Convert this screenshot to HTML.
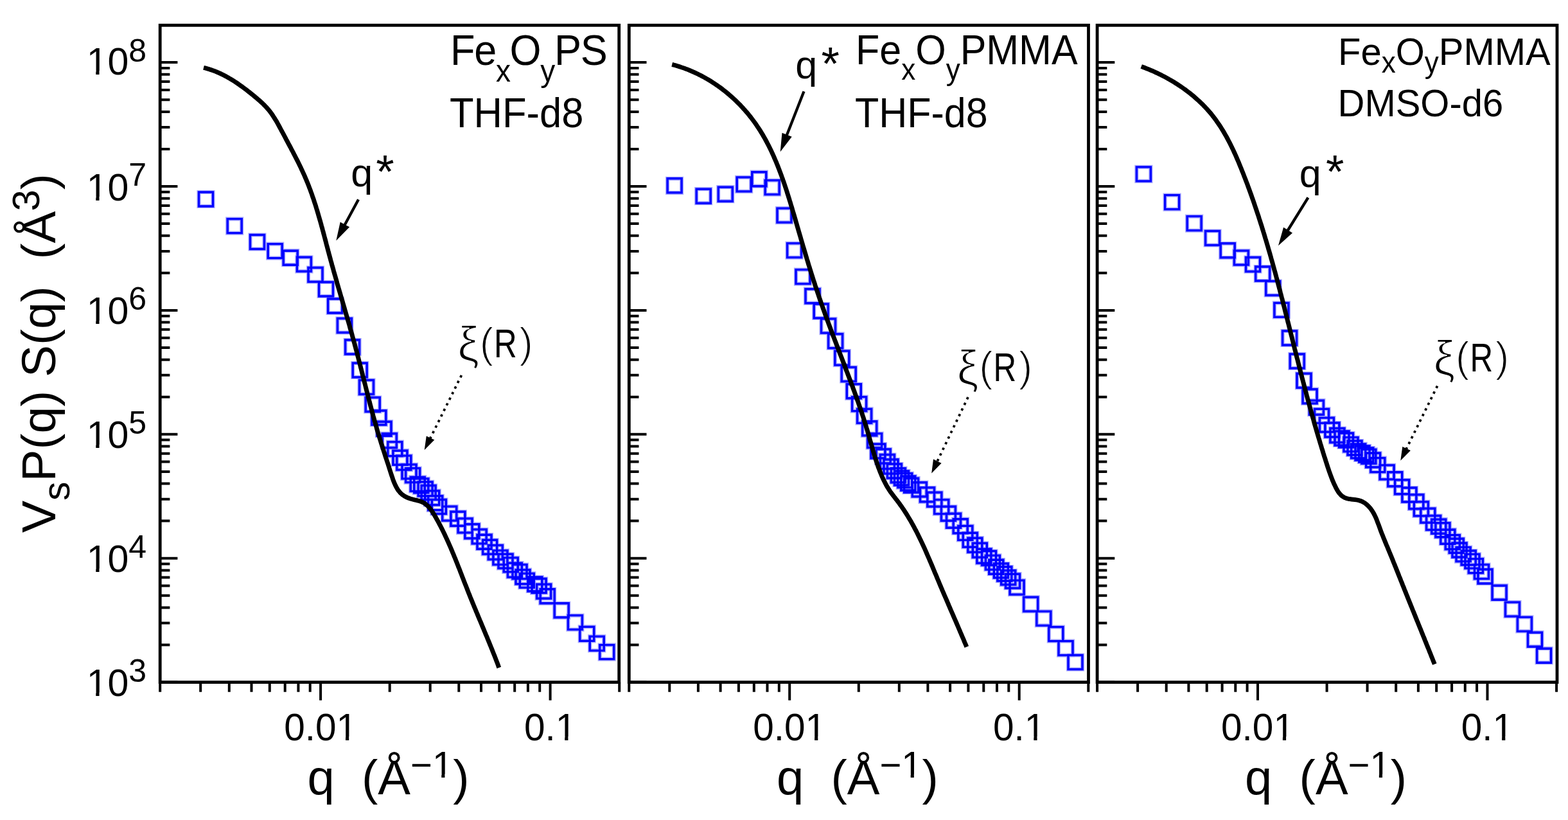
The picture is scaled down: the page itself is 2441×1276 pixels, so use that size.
<!DOCTYPE html>
<html><head><meta charset="utf-8"><title>SANS plot</title>
<style>html,body{margin:0;padding:0;background:#fff;}svg{display:block;}</style></head>
<body><svg width="2441" height="1276" viewBox="0 0 2441 1276">
<rect width="2441" height="1276" fill="#fff"/>
<rect x="249.2" y="39.3" width="714.5" height="1022.3" fill="none" stroke="#000" stroke-width="4.8"/>
<path d="M249.2 1061.6h27.2M249.2 1003.5h15.2M249.2 969.6h15.2M249.2 945.5h15.2M249.2 926.8h15.2M249.2 911.5h15.2M249.2 898.6h15.2M249.2 887.4h15.2M249.2 877.5h15.2M249.2 868.7h27.2M249.2 810.6h15.2M249.2 776.7h15.2M249.2 752.6h15.2M249.2 733.9h15.2M249.2 718.6h15.2M249.2 705.7h15.2M249.2 694.5h15.2M249.2 684.6h15.2M249.2 675.8h27.2M249.2 617.7h15.2M249.2 583.8h15.2M249.2 559.7h15.2M249.2 541.0h15.2M249.2 525.7h15.2M249.2 512.8h15.2M249.2 501.6h15.2M249.2 491.7h15.2M249.2 482.9h27.2M249.2 424.8h15.2M249.2 390.9h15.2M249.2 366.8h15.2M249.2 348.1h15.2M249.2 332.8h15.2M249.2 319.9h15.2M249.2 308.7h15.2M249.2 298.8h15.2M249.2 290.0h27.2M249.2 231.9h15.2M249.2 198.0h15.2M249.2 173.9h15.2M249.2 155.2h15.2M249.2 139.9h15.2M249.2 127.0h15.2M249.2 115.8h15.2M249.2 105.9h15.2M249.2 97.1h27.2" stroke="#000" stroke-width="4" fill="none"/>
<path d="M249.2 1061.6V1076.8M312.2 1061.6V1076.8M356.8 1061.6V1076.8M391.5 1061.6V1076.8M419.8 1061.6V1076.8M443.7 1061.6V1076.8M464.4 1061.6V1076.8M482.7 1061.6V1076.8M499.1 1061.6V1089.8M606.7 1061.6V1076.8M669.7 1061.6V1076.8M714.3 1061.6V1076.8M749.0 1061.6V1076.8M777.3 1061.6V1076.8M801.2 1061.6V1076.8M821.9 1061.6V1076.8M840.2 1061.6V1076.8M856.6 1061.6V1089.8M964.2 1061.6V1076.8" stroke="#000" stroke-width="4" fill="none"/>
<text x="499.1" y="1151.7" font-size="58.5" text-anchor="middle" font-family="'Liberation Sans', Arial, sans-serif">0.01</text>
<text x="856.6" y="1151.7" font-size="58.5" text-anchor="middle" font-family="'Liberation Sans', Arial, sans-serif">0.1</text>
<text x="604.5" y="1235.7" font-size="76" text-anchor="middle" font-family="'Liberation Sans', Arial, sans-serif" xml:space="preserve">q  (Å<tspan font-size="58" dy="-25.7">−1</tspan><tspan dy="25.7">)</tspan></text>
<rect x="979.3" y="39.3" width="715.2" height="1022.3" fill="none" stroke="#000" stroke-width="4.8"/>
<path d="M979.3 1061.6h27.2M979.3 1003.5h15.2M979.3 969.6h15.2M979.3 945.5h15.2M979.3 926.8h15.2M979.3 911.5h15.2M979.3 898.6h15.2M979.3 887.4h15.2M979.3 877.5h15.2M979.3 868.7h27.2M979.3 810.6h15.2M979.3 776.7h15.2M979.3 752.6h15.2M979.3 733.9h15.2M979.3 718.6h15.2M979.3 705.7h15.2M979.3 694.5h15.2M979.3 684.6h15.2M979.3 675.8h27.2M979.3 617.7h15.2M979.3 583.8h15.2M979.3 559.7h15.2M979.3 541.0h15.2M979.3 525.7h15.2M979.3 512.8h15.2M979.3 501.6h15.2M979.3 491.7h15.2M979.3 482.9h27.2M979.3 424.8h15.2M979.3 390.9h15.2M979.3 366.8h15.2M979.3 348.1h15.2M979.3 332.8h15.2M979.3 319.9h15.2M979.3 308.7h15.2M979.3 298.8h15.2M979.3 290.0h27.2M979.3 231.9h15.2M979.3 198.0h15.2M979.3 173.9h15.2M979.3 155.2h15.2M979.3 139.9h15.2M979.3 127.0h15.2M979.3 115.8h15.2M979.3 105.9h15.2M979.3 97.1h27.2" stroke="#000" stroke-width="4" fill="none"/>
<path d="M979.3 1061.6V1076.8M1042.3 1061.6V1076.8M1086.9 1061.6V1076.8M1121.6 1061.6V1076.8M1149.9 1061.6V1076.8M1173.8 1061.6V1076.8M1194.5 1061.6V1076.8M1212.8 1061.6V1076.8M1229.2 1061.6V1089.8M1336.8 1061.6V1076.8M1399.8 1061.6V1076.8M1444.4 1061.6V1076.8M1479.1 1061.6V1076.8M1507.4 1061.6V1076.8M1531.3 1061.6V1076.8M1552.0 1061.6V1076.8M1570.3 1061.6V1076.8M1586.7 1061.6V1089.8M1694.3 1061.6V1076.8" stroke="#000" stroke-width="4" fill="none"/>
<text x="1229.2" y="1151.7" font-size="58.5" text-anchor="middle" font-family="'Liberation Sans', Arial, sans-serif">0.01</text>
<text x="1586.7" y="1151.7" font-size="58.5" text-anchor="middle" font-family="'Liberation Sans', Arial, sans-serif">0.1</text>
<text x="1334.9" y="1235.7" font-size="76" text-anchor="middle" font-family="'Liberation Sans', Arial, sans-serif" xml:space="preserve">q  (Å<tspan font-size="58" dy="-25.7">−1</tspan><tspan dy="25.7">)</tspan></text>
<rect x="1708.1" y="39.3" width="715.9" height="1022.3" fill="none" stroke="#000" stroke-width="4.8"/>
<path d="M1708.1 1061.6h27.2M1708.1 1003.5h15.2M1708.1 969.6h15.2M1708.1 945.5h15.2M1708.1 926.8h15.2M1708.1 911.5h15.2M1708.1 898.6h15.2M1708.1 887.4h15.2M1708.1 877.5h15.2M1708.1 868.7h27.2M1708.1 810.6h15.2M1708.1 776.7h15.2M1708.1 752.6h15.2M1708.1 733.9h15.2M1708.1 718.6h15.2M1708.1 705.7h15.2M1708.1 694.5h15.2M1708.1 684.6h15.2M1708.1 675.8h27.2M1708.1 617.7h15.2M1708.1 583.8h15.2M1708.1 559.7h15.2M1708.1 541.0h15.2M1708.1 525.7h15.2M1708.1 512.8h15.2M1708.1 501.6h15.2M1708.1 491.7h15.2M1708.1 482.9h27.2M1708.1 424.8h15.2M1708.1 390.9h15.2M1708.1 366.8h15.2M1708.1 348.1h15.2M1708.1 332.8h15.2M1708.1 319.9h15.2M1708.1 308.7h15.2M1708.1 298.8h15.2M1708.1 290.0h27.2M1708.1 231.9h15.2M1708.1 198.0h15.2M1708.1 173.9h15.2M1708.1 155.2h15.2M1708.1 139.9h15.2M1708.1 127.0h15.2M1708.1 115.8h15.2M1708.1 105.9h15.2M1708.1 97.1h27.2" stroke="#000" stroke-width="4" fill="none"/>
<path d="M1708.1 1061.6V1076.8M1771.1 1061.6V1076.8M1815.7 1061.6V1076.8M1850.4 1061.6V1076.8M1878.7 1061.6V1076.8M1902.6 1061.6V1076.8M1923.3 1061.6V1076.8M1941.6 1061.6V1076.8M1958.0 1061.6V1089.8M2065.6 1061.6V1076.8M2128.6 1061.6V1076.8M2173.2 1061.6V1076.8M2207.9 1061.6V1076.8M2236.2 1061.6V1076.8M2260.1 1061.6V1076.8M2280.8 1061.6V1076.8M2299.1 1061.6V1076.8M2315.5 1061.6V1089.8M2423.1 1061.6V1076.8" stroke="#000" stroke-width="4" fill="none"/>
<text x="1958.0" y="1151.7" font-size="58.5" text-anchor="middle" font-family="'Liberation Sans', Arial, sans-serif">0.01</text>
<text x="2315.5" y="1151.7" font-size="58.5" text-anchor="middle" font-family="'Liberation Sans', Arial, sans-serif">0.1</text>
<text x="2064.1" y="1235.7" font-size="76" text-anchor="middle" font-family="'Liberation Sans', Arial, sans-serif" xml:space="preserve">q  (Å<tspan font-size="58" dy="-25.7">−1</tspan><tspan dy="25.7">)</tspan></text>
<text x="200.3" y="1083.1" font-size="59" text-anchor="end" font-family="'Liberation Sans', Arial, sans-serif">10</text>
<text x="200.2" y="1060.6" font-size="50" font-family="'Liberation Sans', Arial, sans-serif">3</text>
<text x="200.3" y="890.2" font-size="59" text-anchor="end" font-family="'Liberation Sans', Arial, sans-serif">10</text>
<text x="200.2" y="867.7" font-size="50" font-family="'Liberation Sans', Arial, sans-serif">4</text>
<text x="200.3" y="697.3" font-size="59" text-anchor="end" font-family="'Liberation Sans', Arial, sans-serif">10</text>
<text x="200.2" y="674.8" font-size="50" font-family="'Liberation Sans', Arial, sans-serif">5</text>
<text x="200.3" y="504.4" font-size="59" text-anchor="end" font-family="'Liberation Sans', Arial, sans-serif">10</text>
<text x="200.2" y="481.9" font-size="50" font-family="'Liberation Sans', Arial, sans-serif">6</text>
<text x="200.3" y="311.5" font-size="59" text-anchor="end" font-family="'Liberation Sans', Arial, sans-serif">10</text>
<text x="200.2" y="289.0" font-size="50" font-family="'Liberation Sans', Arial, sans-serif">7</text>
<text x="200.3" y="115.8" font-size="59" text-anchor="end" font-family="'Liberation Sans', Arial, sans-serif">10</text>
<text x="200.2" y="96.4" font-size="50" font-family="'Liberation Sans', Arial, sans-serif">8</text>
<rect x="526.41" y="1146.32" width="11.58" height="6.58" fill="#fff"/>
<rect x="543.20" y="1146.32" width="11.70" height="6.58" fill="#fff"/>
<rect x="867.64" y="1146.32" width="11.58" height="6.58" fill="#fff"/>
<rect x="884.43" y="1146.32" width="11.70" height="6.58" fill="#fff"/>
<rect x="1256.51" y="1146.32" width="11.58" height="6.58" fill="#fff"/>
<rect x="1273.30" y="1146.32" width="11.70" height="6.58" fill="#fff"/>
<rect x="1597.74" y="1146.32" width="11.58" height="6.58" fill="#fff"/>
<rect x="1614.53" y="1146.32" width="11.70" height="6.58" fill="#fff"/>
<rect x="1985.31" y="1146.32" width="11.58" height="6.58" fill="#fff"/>
<rect x="2002.10" y="1146.32" width="11.70" height="6.58" fill="#fff"/>
<rect x="2326.54" y="1146.32" width="11.58" height="6.58" fill="#fff"/>
<rect x="2343.33" y="1146.32" width="11.70" height="6.58" fill="#fff"/>
<rect x="675.78" y="1204.66" width="11.48" height="6.54" fill="#fff"/>
<rect x="692.43" y="1204.66" width="11.60" height="6.54" fill="#fff"/>
<rect x="1406.18" y="1204.66" width="11.48" height="6.54" fill="#fff"/>
<rect x="1422.83" y="1204.66" width="11.60" height="6.54" fill="#fff"/>
<rect x="2135.38" y="1204.66" width="11.48" height="6.54" fill="#fff"/>
<rect x="2152.03" y="1204.66" width="11.60" height="6.54" fill="#fff"/>
<rect x="137.61" y="1077.67" width="11.68" height="6.63" fill="#fff"/>
<rect x="154.54" y="1077.67" width="11.80" height="6.63" fill="#fff"/>
<rect x="137.61" y="884.77" width="11.68" height="6.63" fill="#fff"/>
<rect x="154.54" y="884.77" width="11.80" height="6.63" fill="#fff"/>
<rect x="137.61" y="691.87" width="11.68" height="6.63" fill="#fff"/>
<rect x="154.54" y="691.87" width="11.80" height="6.63" fill="#fff"/>
<rect x="137.61" y="498.97" width="11.68" height="6.63" fill="#fff"/>
<rect x="154.54" y="498.97" width="11.80" height="6.63" fill="#fff"/>
<rect x="137.61" y="306.07" width="11.68" height="6.63" fill="#fff"/>
<rect x="154.54" y="306.07" width="11.80" height="6.63" fill="#fff"/>
<rect x="137.61" y="110.37" width="11.68" height="6.63" fill="#fff"/>
<rect x="154.54" y="110.37" width="11.80" height="6.63" fill="#fff"/>
<text transform="translate(86,829) rotate(-90)" font-size="75" font-family="'Liberation Sans', Arial, sans-serif" xml:space="preserve">V<tspan font-size="59" dy="22">s</tspan><tspan dy="-22">P(q) S(q)  (Å</tspan><tspan font-size="60" dy="-25">3</tspan><tspan dy="25">)</tspan></text>
<g transform="translate(701,101.3) scale(1,1.06)"><text x="0" y="0" font-size="63" letter-spacing="-1.3" font-family="'Liberation Sans', Arial, sans-serif"><tspan>Fe</tspan><tspan font-size="46" dy="23.9">x</tspan><tspan dy="-23.9">O</tspan><tspan font-size="46" dy="23.9">y</tspan><tspan dy="-23.9">PS</tspan></text></g>
<g transform="translate(700,197.9) scale(1,1.05)"><text x="0" y="0" font-size="61.5" letter-spacing="0" font-family="'Liberation Sans', Arial, sans-serif"><tspan>THF-d8</tspan></text></g>
<g transform="translate(1332,99.7) scale(1,1.05)"><text x="0" y="0" font-size="61" letter-spacing="0" font-family="'Liberation Sans', Arial, sans-serif"><tspan>Fe</tspan><tspan font-size="44" dy="23.2">x</tspan><tspan dy="-23.2">O</tspan><tspan font-size="44" dy="23.2">y</tspan><tspan dy="-23.2">PMMA</tspan></text></g>
<g transform="translate(1331,197.6) scale(1,1.077)"><text x="0" y="0" font-size="61" letter-spacing="0" font-family="'Liberation Sans', Arial, sans-serif"><tspan>THF-d8</tspan></text></g>
<g transform="translate(2083,100.9) scale(1,1.03)"><text x="0" y="0" font-size="58" letter-spacing="0" font-family="'Liberation Sans', Arial, sans-serif"><tspan>Fe</tspan><tspan font-size="44" dy="11.8">x</tspan><tspan dy="-11.8">O</tspan><tspan font-size="44" dy="11.8">y</tspan><tspan dy="-11.8">PMMA</tspan></text></g>
<g transform="translate(2082.5,180.7) scale(1,1.025)"><text x="0" y="0" font-size="58" letter-spacing="0" font-family="'Liberation Sans', Arial, sans-serif"><tspan>DMSO-d6</tspan></text></g>
<text x="546.3" y="290.4" font-size="61" font-family="'Liberation Sans', Arial, sans-serif">q</text>
<text x="585.3" y="291.6" font-size="73" font-family="'Liberation Sans', Arial, sans-serif">*</text>
<text x="1238.3" y="121.6" font-size="61" font-family="'Liberation Sans', Arial, sans-serif">q</text>
<text x="1278.5" y="124.4" font-size="73" font-family="'Liberation Sans', Arial, sans-serif">*</text>
<text x="2022.8" y="291.1" font-size="61" font-family="'Liberation Sans', Arial, sans-serif">q</text>
<text x="2064.0" y="292.3" font-size="73" font-family="'Liberation Sans', Arial, sans-serif">*</text>
<text x="712.0" y="560.8" font-size="76" stroke="#fff" stroke-width="2" font-family="'Liberation Sans', Arial, sans-serif">ξ</text>
<text x="746.5" y="556.4" font-size="66" stroke="#fff" stroke-width="1.8" font-family="'Liberation Sans', Arial, sans-serif">(</text>
<text x="808.1" y="556.4" font-size="66" stroke="#fff" stroke-width="1.8" font-family="'Liberation Sans', Arial, sans-serif">)</text>
<text transform="translate(769.0,556.4) scale(0.79,1)" x="0" y="0" font-size="62.5" font-family="'Liberation Sans', Arial, sans-serif">R</text>
<text x="1489.4" y="597.8" font-size="76" stroke="#fff" stroke-width="2" font-family="'Liberation Sans', Arial, sans-serif">ξ</text>
<text x="1523.9" y="593.4" font-size="66" stroke="#fff" stroke-width="1.8" font-family="'Liberation Sans', Arial, sans-serif">(</text>
<text x="1585.5" y="593.4" font-size="66" stroke="#fff" stroke-width="1.8" font-family="'Liberation Sans', Arial, sans-serif">)</text>
<text transform="translate(1546.5,593.4) scale(0.79,1)" x="0" y="0" font-size="62.5" font-family="'Liberation Sans', Arial, sans-serif">R</text>
<text x="2231.3" y="582.5" font-size="76" stroke="#fff" stroke-width="2" font-family="'Liberation Sans', Arial, sans-serif">ξ</text>
<text x="2265.8" y="578.1" font-size="66" stroke="#fff" stroke-width="1.8" font-family="'Liberation Sans', Arial, sans-serif">(</text>
<text x="2327.4" y="578.1" font-size="66" stroke="#fff" stroke-width="1.8" font-family="'Liberation Sans', Arial, sans-serif">)</text>
<text transform="translate(2288.4,578.1) scale(0.79,1)" x="0" y="0" font-size="62.5" font-family="'Liberation Sans', Arial, sans-serif">R</text>
<line x1="558.0" y1="310.4" x2="535.0" y2="353.0" stroke="#000" stroke-width="4.3"/>
<polygon points="523.3,374.5 529.7,345.5 536.9,349.4 544.1,353.3" fill="#000"/>
<line x1="1251.5" y1="142.3" x2="1223.6" y2="213.5" stroke="#000" stroke-width="4.3"/>
<polygon points="1214.7,236.3 1217.5,206.8 1225.1,209.8 1232.7,212.8" fill="#000"/>
<line x1="2036.4" y1="307.5" x2="2002.9" y2="361.5" stroke="#000" stroke-width="4.3"/>
<polygon points="1990.0,382.3 1998.1,353.8 2005.0,358.1 2012.0,362.4" fill="#000"/>
<line x1="718.4" y1="584.0" x2="668.3" y2="685.1" stroke="#000" stroke-width="3.7" stroke-dasharray="3.7 6"/>
<polygon points="660.7,700.3 663.8,678.4 670.0,681.5 676.3,684.6" fill="#000"/>
<line x1="1507.0" y1="618.0" x2="1457.5" y2="721.3" stroke="#000" stroke-width="3.7" stroke-dasharray="3.7 6"/>
<polygon points="1450.2,736.6 1453.0,714.6 1459.3,717.7 1465.6,720.7" fill="#000"/>
<line x1="2237.6" y1="600.6" x2="2187.8" y2="701.6" stroke="#000" stroke-width="3.7" stroke-dasharray="3.7 6"/>
<polygon points="2180.3,716.8 2183.3,694.9 2189.6,698.0 2195.9,701.1" fill="#000"/>
<path d="M309.5 299.0h22.0v22.0h-22.0zM354.2 340.6h22.0v22.0h-22.0zM389.5 365.5h22.0v22.0h-22.0zM417.2 379.6h22.0v22.0h-22.0zM441.2 390.2h22.0v22.0h-22.0zM462.4 400.3h22.0v22.0h-22.0zM480.0 416.5h22.0v22.0h-22.0zM496.5 439.0h22.0v22.0h-22.0zM510.6 465.0h22.0v22.0h-22.0zM525.4 495.5h22.0v22.0h-22.0zM537.6 529.0h22.0v22.0h-22.0zM549.2 565.0h22.0v22.0h-22.0zM559.5 591.5h22.0v22.0h-22.0zM569.2 618.5h22.0v22.0h-22.0zM578.8 639.0h22.0v22.0h-22.0zM587.0 656.2h22.0v22.0h-22.0zM595.3 674.7h22.0v22.0h-22.0zM603.8 687.6h22.0v22.0h-22.0zM611.9 701.2h22.0v22.0h-22.0zM617.8 709.1h22.0v22.0h-22.0zM626.0 722.9h22.0v22.0h-22.0zM631.6 728.6h22.0v22.0h-22.0zM639.2 742.4h22.0v22.0h-22.0zM644.8 744.9h22.0v22.0h-22.0zM651.1 749.9h22.0v22.0h-22.0zM656.1 755.5h22.0v22.0h-22.0zM661.7 763.7h22.0v22.0h-22.0zM666.7 771.8h22.0v22.0h-22.0zM672.4 777.5h22.0v22.0h-22.0zM688.7 788.1h22.0v22.0h-22.0zM701.9 796.3h22.0v22.0h-22.0zM713.1 806.9h22.0v22.0h-22.0zM723.8 815.7h22.0v22.0h-22.0zM735.2 823.9h22.0v22.0h-22.0zM743.0 832.2h22.0v22.0h-22.0zM751.6 840.3h22.0v22.0h-22.0zM760.3 848.5h22.0v22.0h-22.0zM767.9 856.6h22.0v22.0h-22.0zM776.0 862.3h22.0v22.0h-22.0zM784.2 867.9h22.0v22.0h-22.0zM790.4 876.1h22.0v22.0h-22.0zM798.0 878.6h22.0v22.0h-22.0zM803.0 886.7h22.0v22.0h-22.0zM809.3 892.4h22.0v22.0h-22.0zM821.8 898.0h22.0v22.0h-22.0zM828.1 900.5h22.0v22.0h-22.0zM835.6 909.3h22.0v22.0h-22.0zM841.2 916.8h22.0v22.0h-22.0zM863.2 938.8h22.0v22.0h-22.0zM884.4 957.6h22.0v22.0h-22.0zM902.7 975.4h22.0v22.0h-22.0zM918.2 990.4h22.0v22.0h-22.0zM933.7 1003.6h22.0v22.0h-22.0z" fill="none" stroke="#aaaaff" stroke-width="6.2"/>
<path d="M1039.1 277.8h22.0v22.0h-22.0zM1084.2 294.2h22.0v22.0h-22.0zM1118.3 291.2h22.0v22.0h-22.0zM1147.2 275.9h22.0v22.0h-22.0zM1170.8 267.7h22.0v22.0h-22.0zM1191.2 280.6h22.0v22.0h-22.0zM1210.0 324.1h22.0v22.0h-22.0zM1225.6 378.6h22.0v22.0h-22.0zM1239.0 419.6h22.0v22.0h-22.0zM1254.0 449.7h22.0v22.0h-22.0zM1267.2 473.0h22.0v22.0h-22.0zM1278.5 496.1h22.0v22.0h-22.0zM1289.6 519.7h22.0v22.0h-22.0zM1299.8 546.1h22.0v22.0h-22.0zM1310.2 571.5h22.0v22.0h-22.0zM1318.3 597.8h22.0v22.0h-22.0zM1326.6 617.6h22.0v22.0h-22.0zM1334.6 636.4h22.0v22.0h-22.0zM1342.7 655.8h22.0v22.0h-22.0zM1350.6 674.6h22.0v22.0h-22.0zM1355.9 691.0h22.0v22.0h-22.0zM1364.2 699.0h22.0v22.0h-22.0zM1370.4 707.5h22.0v22.0h-22.0zM1376.0 715.0h22.0v22.0h-22.0zM1381.4 722.0h22.0v22.0h-22.0zM1387.4 728.7h22.0v22.0h-22.0zM1392.5 733.0h22.0v22.0h-22.0zM1397.7 736.6h22.0v22.0h-22.0zM1402.8 741.0h22.0v22.0h-22.0zM1407.6 744.2h22.0v22.0h-22.0zM1420.3 750.7h22.0v22.0h-22.0zM1432.5 758.8h22.0v22.0h-22.0zM1443.8 766.3h22.0v22.0h-22.0zM1454.7 777.6h22.0v22.0h-22.0zM1465.4 788.3h22.0v22.0h-22.0zM1473.5 799.2h22.0v22.0h-22.0zM1484.2 807.7h22.0v22.0h-22.0zM1491.8 818.4h22.0v22.0h-22.0zM1499.3 829.3h22.0v22.0h-22.0zM1506.8 837.2h22.0v22.0h-22.0zM1514.3 845.3h22.0v22.0h-22.0zM1520.9 854.3h22.0v22.0h-22.0zM1528.5 857.5h22.0v22.0h-22.0zM1534.4 864.4h22.0v22.0h-22.0zM1539.8 871.2h22.0v22.0h-22.0zM1547.4 877.0h22.0v22.0h-22.0zM1552.8 882.0h22.0v22.0h-22.0zM1558.7 887.8h22.0v22.0h-22.0zM1565.5 893.2h22.0v22.0h-22.0zM1572.1 903.1h22.0v22.0h-22.0zM1593.7 929.3h22.0v22.0h-22.0zM1613.8 951.4h22.0v22.0h-22.0zM1632.8 975.6h22.0v22.0h-22.0zM1648.0 997.6h22.0v22.0h-22.0zM1663.0 1019.5h22.0v22.0h-22.0z" fill="none" stroke="#aaaaff" stroke-width="6.2"/>
<path d="M1769.4 259.9h22.0v22.0h-22.0zM1813.6 303.6h22.0v22.0h-22.0zM1848.2 336.6h22.0v22.0h-22.0zM1876.6 359.5h22.0v22.0h-22.0zM1900.2 378.8h22.0v22.0h-22.0zM1921.4 390.1h22.0v22.0h-22.0zM1939.5 400.5h22.0v22.0h-22.0zM1954.7 415.0h22.0v22.0h-22.0zM1970.7 437.5h22.0v22.0h-22.0zM1983.9 471.4h22.0v22.0h-22.0zM1996.6 515.0h22.0v22.0h-22.0zM2008.3 551.0h22.0v22.0h-22.0zM2019.0 581.3h22.0v22.0h-22.0zM2028.1 605.7h22.0v22.0h-22.0zM2038.4 623.2h22.0v22.0h-22.0zM2046.5 636.4h22.0v22.0h-22.0zM2054.4 650.1h22.0v22.0h-22.0zM2062.9 658.0h22.0v22.0h-22.0zM2070.9 666.5h22.0v22.0h-22.0zM2078.0 671.0h22.0v22.0h-22.0zM2084.5 674.0h22.0v22.0h-22.0zM2092.0 680.6h22.0v22.0h-22.0zM2098.0 686.0h22.0v22.0h-22.0zM2103.7 690.9h22.0v22.0h-22.0zM2110.0 694.0h22.0v22.0h-22.0zM2115.8 697.0h22.0v22.0h-22.0zM2119.8 699.4h22.0v22.0h-22.0zM2126.6 705.0h22.0v22.0h-22.0zM2133.8 712.6h22.0v22.0h-22.0zM2148.1 723.9h22.0v22.0h-22.0zM2160.7 734.8h22.0v22.0h-22.0zM2171.6 746.8h22.0v22.0h-22.0zM2182.9 759.0h22.0v22.0h-22.0zM2193.8 769.8h22.0v22.0h-22.0zM2201.4 780.9h22.0v22.0h-22.0zM2211.8 791.3h22.0v22.0h-22.0zM2220.6 802.5h22.0v22.0h-22.0zM2228.7 808.2h22.0v22.0h-22.0zM2234.9 813.8h22.0v22.0h-22.0zM2242.8 824.2h22.0v22.0h-22.0zM2250.3 832.6h22.0v22.0h-22.0zM2256.3 838.3h22.0v22.0h-22.0zM2261.0 845.0h22.0v22.0h-22.0zM2267.1 851.6h22.0v22.0h-22.0zM2275.2 857.0h22.0v22.0h-22.0zM2281.0 862.4h22.0v22.0h-22.0zM2286.4 869.6h22.0v22.0h-22.0zM2295.5 878.6h22.0v22.0h-22.0zM2301.0 886.0h22.0v22.0h-22.0zM2323.1 911.2h22.0v22.0h-22.0zM2343.5 937.1h22.0v22.0h-22.0zM2362.4 960.4h22.0v22.0h-22.0zM2378.5 984.2h22.0v22.0h-22.0zM2392.6 1009.2h22.0v22.0h-22.0z" fill="none" stroke="#aaaaff" stroke-width="6.2"/>
<path d="M309.5 299.0h22.0v22.0h-22.0zM354.2 340.6h22.0v22.0h-22.0zM389.5 365.5h22.0v22.0h-22.0zM417.2 379.6h22.0v22.0h-22.0zM441.2 390.2h22.0v22.0h-22.0zM462.4 400.3h22.0v22.0h-22.0zM480.0 416.5h22.0v22.0h-22.0zM496.5 439.0h22.0v22.0h-22.0zM510.6 465.0h22.0v22.0h-22.0zM525.4 495.5h22.0v22.0h-22.0zM537.6 529.0h22.0v22.0h-22.0zM549.2 565.0h22.0v22.0h-22.0zM559.5 591.5h22.0v22.0h-22.0zM569.2 618.5h22.0v22.0h-22.0zM578.8 639.0h22.0v22.0h-22.0zM587.0 656.2h22.0v22.0h-22.0zM595.3 674.7h22.0v22.0h-22.0zM603.8 687.6h22.0v22.0h-22.0zM611.9 701.2h22.0v22.0h-22.0zM617.8 709.1h22.0v22.0h-22.0zM626.0 722.9h22.0v22.0h-22.0zM631.6 728.6h22.0v22.0h-22.0zM639.2 742.4h22.0v22.0h-22.0zM644.8 744.9h22.0v22.0h-22.0zM651.1 749.9h22.0v22.0h-22.0zM656.1 755.5h22.0v22.0h-22.0zM661.7 763.7h22.0v22.0h-22.0zM666.7 771.8h22.0v22.0h-22.0zM672.4 777.5h22.0v22.0h-22.0zM688.7 788.1h22.0v22.0h-22.0zM701.9 796.3h22.0v22.0h-22.0zM713.1 806.9h22.0v22.0h-22.0zM723.8 815.7h22.0v22.0h-22.0zM735.2 823.9h22.0v22.0h-22.0zM743.0 832.2h22.0v22.0h-22.0zM751.6 840.3h22.0v22.0h-22.0zM760.3 848.5h22.0v22.0h-22.0zM767.9 856.6h22.0v22.0h-22.0zM776.0 862.3h22.0v22.0h-22.0zM784.2 867.9h22.0v22.0h-22.0zM790.4 876.1h22.0v22.0h-22.0zM798.0 878.6h22.0v22.0h-22.0zM803.0 886.7h22.0v22.0h-22.0zM809.3 892.4h22.0v22.0h-22.0zM821.8 898.0h22.0v22.0h-22.0zM828.1 900.5h22.0v22.0h-22.0zM835.6 909.3h22.0v22.0h-22.0zM841.2 916.8h22.0v22.0h-22.0zM863.2 938.8h22.0v22.0h-22.0zM884.4 957.6h22.0v22.0h-22.0zM902.7 975.4h22.0v22.0h-22.0zM918.2 990.4h22.0v22.0h-22.0zM933.7 1003.6h22.0v22.0h-22.0z" fill="none" stroke="#0000ff" stroke-width="3.4"/>
<path d="M1039.1 277.8h22.0v22.0h-22.0zM1084.2 294.2h22.0v22.0h-22.0zM1118.3 291.2h22.0v22.0h-22.0zM1147.2 275.9h22.0v22.0h-22.0zM1170.8 267.7h22.0v22.0h-22.0zM1191.2 280.6h22.0v22.0h-22.0zM1210.0 324.1h22.0v22.0h-22.0zM1225.6 378.6h22.0v22.0h-22.0zM1239.0 419.6h22.0v22.0h-22.0zM1254.0 449.7h22.0v22.0h-22.0zM1267.2 473.0h22.0v22.0h-22.0zM1278.5 496.1h22.0v22.0h-22.0zM1289.6 519.7h22.0v22.0h-22.0zM1299.8 546.1h22.0v22.0h-22.0zM1310.2 571.5h22.0v22.0h-22.0zM1318.3 597.8h22.0v22.0h-22.0zM1326.6 617.6h22.0v22.0h-22.0zM1334.6 636.4h22.0v22.0h-22.0zM1342.7 655.8h22.0v22.0h-22.0zM1350.6 674.6h22.0v22.0h-22.0zM1355.9 691.0h22.0v22.0h-22.0zM1364.2 699.0h22.0v22.0h-22.0zM1370.4 707.5h22.0v22.0h-22.0zM1376.0 715.0h22.0v22.0h-22.0zM1381.4 722.0h22.0v22.0h-22.0zM1387.4 728.7h22.0v22.0h-22.0zM1392.5 733.0h22.0v22.0h-22.0zM1397.7 736.6h22.0v22.0h-22.0zM1402.8 741.0h22.0v22.0h-22.0zM1407.6 744.2h22.0v22.0h-22.0zM1420.3 750.7h22.0v22.0h-22.0zM1432.5 758.8h22.0v22.0h-22.0zM1443.8 766.3h22.0v22.0h-22.0zM1454.7 777.6h22.0v22.0h-22.0zM1465.4 788.3h22.0v22.0h-22.0zM1473.5 799.2h22.0v22.0h-22.0zM1484.2 807.7h22.0v22.0h-22.0zM1491.8 818.4h22.0v22.0h-22.0zM1499.3 829.3h22.0v22.0h-22.0zM1506.8 837.2h22.0v22.0h-22.0zM1514.3 845.3h22.0v22.0h-22.0zM1520.9 854.3h22.0v22.0h-22.0zM1528.5 857.5h22.0v22.0h-22.0zM1534.4 864.4h22.0v22.0h-22.0zM1539.8 871.2h22.0v22.0h-22.0zM1547.4 877.0h22.0v22.0h-22.0zM1552.8 882.0h22.0v22.0h-22.0zM1558.7 887.8h22.0v22.0h-22.0zM1565.5 893.2h22.0v22.0h-22.0zM1572.1 903.1h22.0v22.0h-22.0zM1593.7 929.3h22.0v22.0h-22.0zM1613.8 951.4h22.0v22.0h-22.0zM1632.8 975.6h22.0v22.0h-22.0zM1648.0 997.6h22.0v22.0h-22.0zM1663.0 1019.5h22.0v22.0h-22.0z" fill="none" stroke="#0000ff" stroke-width="3.4"/>
<path d="M1769.4 259.9h22.0v22.0h-22.0zM1813.6 303.6h22.0v22.0h-22.0zM1848.2 336.6h22.0v22.0h-22.0zM1876.6 359.5h22.0v22.0h-22.0zM1900.2 378.8h22.0v22.0h-22.0zM1921.4 390.1h22.0v22.0h-22.0zM1939.5 400.5h22.0v22.0h-22.0zM1954.7 415.0h22.0v22.0h-22.0zM1970.7 437.5h22.0v22.0h-22.0zM1983.9 471.4h22.0v22.0h-22.0zM1996.6 515.0h22.0v22.0h-22.0zM2008.3 551.0h22.0v22.0h-22.0zM2019.0 581.3h22.0v22.0h-22.0zM2028.1 605.7h22.0v22.0h-22.0zM2038.4 623.2h22.0v22.0h-22.0zM2046.5 636.4h22.0v22.0h-22.0zM2054.4 650.1h22.0v22.0h-22.0zM2062.9 658.0h22.0v22.0h-22.0zM2070.9 666.5h22.0v22.0h-22.0zM2078.0 671.0h22.0v22.0h-22.0zM2084.5 674.0h22.0v22.0h-22.0zM2092.0 680.6h22.0v22.0h-22.0zM2098.0 686.0h22.0v22.0h-22.0zM2103.7 690.9h22.0v22.0h-22.0zM2110.0 694.0h22.0v22.0h-22.0zM2115.8 697.0h22.0v22.0h-22.0zM2119.8 699.4h22.0v22.0h-22.0zM2126.6 705.0h22.0v22.0h-22.0zM2133.8 712.6h22.0v22.0h-22.0zM2148.1 723.9h22.0v22.0h-22.0zM2160.7 734.8h22.0v22.0h-22.0zM2171.6 746.8h22.0v22.0h-22.0zM2182.9 759.0h22.0v22.0h-22.0zM2193.8 769.8h22.0v22.0h-22.0zM2201.4 780.9h22.0v22.0h-22.0zM2211.8 791.3h22.0v22.0h-22.0zM2220.6 802.5h22.0v22.0h-22.0zM2228.7 808.2h22.0v22.0h-22.0zM2234.9 813.8h22.0v22.0h-22.0zM2242.8 824.2h22.0v22.0h-22.0zM2250.3 832.6h22.0v22.0h-22.0zM2256.3 838.3h22.0v22.0h-22.0zM2261.0 845.0h22.0v22.0h-22.0zM2267.1 851.6h22.0v22.0h-22.0zM2275.2 857.0h22.0v22.0h-22.0zM2281.0 862.4h22.0v22.0h-22.0zM2286.4 869.6h22.0v22.0h-22.0zM2295.5 878.6h22.0v22.0h-22.0zM2301.0 886.0h22.0v22.0h-22.0zM2323.1 911.2h22.0v22.0h-22.0zM2343.5 937.1h22.0v22.0h-22.0zM2362.4 960.4h22.0v22.0h-22.0zM2378.5 984.2h22.0v22.0h-22.0zM2392.6 1009.2h22.0v22.0h-22.0z" fill="none" stroke="#0000ff" stroke-width="3.4"/>
<path d="M317.0 105.3 L319.5 105.9 L322.0 106.6 L324.4 107.3 L326.8 108.1 L329.2 108.9 L331.6 109.7 L333.9 110.6 L336.3 111.5 L338.6 112.5 L340.9 113.5 L343.2 114.5 L345.4 115.6 L347.6 116.7 L349.9 117.9 L352.1 119.0 L354.3 120.2 L356.4 121.5 L358.6 122.7 L360.7 124.0 L362.9 125.3 L365.0 126.7 L367.1 128.1 L369.2 129.4 L371.2 130.9 L373.3 132.3 L375.4 133.8 L377.4 135.2 L379.4 136.7 L381.4 138.2 L383.5 139.8 L385.4 141.3 L387.4 142.9 L389.4 144.4 L391.4 146.0 L393.3 147.6 L395.3 149.2 L397.2 150.8 L399.2 152.4 L401.1 154.1 L403.0 155.7 L404.9 157.4 L406.8 159.1 L408.6 160.8 L410.4 162.5 L412.1 164.3 L413.9 166.1 L415.5 167.9 L417.2 169.8 L418.8 171.7 L420.3 173.7 L421.8 175.7 L423.3 177.7 L424.7 179.8 L426.0 181.8 L427.4 184.0 L428.7 186.1 L430.0 188.2 L431.3 190.4 L432.5 192.6 L433.7 194.8 L434.9 197.0 L436.1 199.2 L437.3 201.5 L438.5 203.7 L439.7 205.9 L440.9 208.2 L442.1 210.4 L443.3 212.6 L444.5 214.9 L445.6 217.1 L446.8 219.3 L448.0 221.5 L449.2 223.8 L450.4 226.0 L451.6 228.2 L452.8 230.4 L453.9 232.7 L455.1 234.9 L456.3 237.1 L457.4 239.4 L458.6 241.6 L459.7 243.8 L460.9 246.1 L462.0 248.3 L463.2 250.5 L464.3 252.8 L465.4 255.0 L466.5 257.3 L467.6 259.5 L468.7 261.8 L469.7 264.1 L470.8 266.3 L471.8 268.6 L472.9 270.9 L473.9 273.2 L474.9 275.5 L475.9 277.8 L476.9 280.1 L477.8 282.4 L478.8 284.7 L479.7 287.0 L480.6 289.3 L481.5 291.7 L482.4 294.0 L483.3 296.3 L484.1 298.7 L485.0 301.0 L485.8 303.4 L486.6 305.8 L487.4 308.1 L488.3 310.5 L489.0 312.9 L489.8 315.3 L490.6 317.7 L491.4 320.1 L492.1 322.5 L492.8 324.8 L493.6 327.2 L494.3 329.7 L495.0 332.1 L495.7 334.5 L496.4 336.9 L497.1 339.3 L497.8 341.7 L498.5 344.1 L499.2 346.6 L499.9 349.0 L500.5 351.4 L501.2 353.8 L501.9 356.3 L502.5 358.7 L503.2 361.1 L503.8 363.6 L504.5 366.0 L505.1 368.4 L505.8 370.9 L506.4 373.3 L507.1 375.7 L507.7 378.2 L508.3 380.6 L509.0 383.1 L509.6 385.5 L510.3 387.9 L510.9 390.4 L511.6 392.8 L512.2 395.2 L512.9 397.7 L513.5 400.1 L514.2 402.5 L514.8 404.9 L515.5 407.4 L516.2 409.8 L516.8 412.2 L517.5 414.6 L518.2 417.0 L518.9 419.5 L519.5 421.9 L520.2 424.3 L520.9 426.7 L521.6 429.1 L522.3 431.5 L523.0 433.9 L523.7 436.3 L524.3 438.8 L525.0 441.2 L525.7 443.6 L526.4 446.0 L527.1 448.4 L527.8 450.8 L528.5 453.2 L529.2 455.6 L529.9 458.0 L530.6 460.4 L531.3 462.8 L532.0 465.2 L532.7 467.6 L533.4 470.0 L534.1 472.4 L534.8 474.8 L535.5 477.2 L536.2 479.6 L536.9 482.1 L537.6 484.5 L538.3 486.9 L539.0 489.3 L539.7 491.7 L540.4 494.1 L541.1 496.5 L541.8 498.9 L542.5 501.3 L543.2 503.7 L543.9 506.1 L544.5 508.5 L545.2 511.0 L545.9 513.4 L546.6 515.8 L547.3 518.2 L548.0 520.6 L548.6 523.0 L549.3 525.4 L550.0 527.9 L550.6 530.3 L551.3 532.7 L552.0 535.1 L552.6 537.6 L553.3 540.0 L553.9 542.4 L554.6 544.8 L555.2 547.3 L555.9 549.7 L556.5 552.1 L557.1 554.6 L557.8 557.0 L558.4 559.5 L559.0 561.9 L559.7 564.3 L560.3 566.8 L560.9 569.2 L561.5 571.7 L562.2 574.1 L562.8 576.5 L563.4 579.0 L564.0 581.4 L564.6 583.9 L565.3 586.3 L565.9 588.7 L566.5 591.2 L567.1 593.6 L567.7 596.1 L568.4 598.5 L569.0 601.0 L569.6 603.4 L570.2 605.8 L570.8 608.3 L571.5 610.7 L572.1 613.2 L572.7 615.6 L573.3 618.0 L574.0 620.5 L574.6 622.9 L575.2 625.3 L575.9 627.8 L576.5 630.2 L577.1 632.6 L577.8 635.0 L578.4 637.5 L579.1 639.9 L579.7 642.3 L580.4 644.7 L581.0 647.1 L581.7 649.6 L582.4 652.0 L583.0 654.4 L583.7 656.8 L584.4 659.2 L585.1 661.6 L585.8 664.0 L586.4 666.4 L587.1 668.8 L587.8 671.2 L588.5 673.6 L589.3 675.9 L590.0 678.3 L590.7 680.7 L591.4 683.1 L592.2 685.4 L592.9 687.8 L593.6 690.2 L594.4 692.5 L595.1 694.9 L595.9 697.3 L596.7 699.7 L597.4 702.0 L598.2 704.4 L599.0 706.8 L599.7 709.2 L600.5 711.6 L601.3 714.0 L602.1 716.4 L602.9 718.8 L603.7 721.2 L604.5 723.6 L605.3 726.1 L606.0 728.5 L606.8 731.0 L607.6 733.5 L608.4 736.0 L609.2 738.5 L610.1 741.0 L610.9 743.4 L611.7 745.9 L612.6 748.4 L613.6 750.8 L614.6 753.1 L615.6 755.4 L616.8 757.7 L618.0 759.8 L619.2 761.9 L620.6 763.8 L622.1 765.6 L623.7 767.4 L625.4 768.9 L627.3 770.4 L629.2 771.7 L631.3 772.9 L633.5 774.0 L635.7 774.9 L638.1 775.8 L640.5 776.5 L642.9 777.2 L645.5 777.8 L648.0 778.4 L650.5 779.0 L652.9 779.7 L655.3 780.5 L657.6 781.4 L659.7 782.5 L661.7 783.8 L663.6 785.3 L665.4 786.9 L667.1 788.6 L668.7 790.4 L670.3 792.3 L671.7 794.3 L673.1 796.4 L674.5 798.6 L675.8 800.7 L677.1 802.9 L678.4 805.1 L679.6 807.4 L680.9 809.6 L682.1 811.8 L683.3 814.0 L684.5 816.3 L685.7 818.5 L686.8 820.8 L688.0 823.0 L689.1 825.3 L690.2 827.5 L691.3 829.8 L692.4 832.1 L693.5 834.4 L694.5 836.6 L695.6 838.9 L696.6 841.2 L697.7 843.5 L698.7 845.8 L699.7 848.1 L700.7 850.4 L701.7 852.7 L702.7 855.0 L703.7 857.3 L704.6 859.6 L705.6 861.9 L706.6 864.3 L707.5 866.6 L708.5 868.9 L709.4 871.2 L710.3 873.5 L711.3 875.9 L712.2 878.2 L713.1 880.5 L714.0 882.9 L715.0 885.2 L715.9 887.5 L716.8 889.9 L717.7 892.2 L718.6 894.5 L719.5 896.9 L720.4 899.2 L721.3 901.5 L722.2 903.9 L723.1 906.2 L724.0 908.6 L725.0 910.9 L725.9 913.2 L726.8 915.6 L727.7 917.9 L728.6 920.2 L729.5 922.6 L730.5 924.9 L731.4 927.2 L732.3 929.6 L733.3 931.9 L734.2 934.2 L735.2 936.5 L736.1 938.9 L737.1 941.2 L738.0 943.5 L739.0 945.8 L740.0 948.2 L740.9 950.5 L741.9 952.8 L742.9 955.1 L743.8 957.4 L744.8 959.8 L745.8 962.1 L746.7 964.4 L747.7 966.7 L748.7 969.0 L749.7 971.4 L750.6 973.7 L751.6 976.0 L752.6 978.3 L753.5 980.6 L754.5 983.0 L755.5 985.3 L756.4 987.6 L757.4 989.9 L758.4 992.2 L759.3 994.6 L760.3 996.9 L761.2 999.2 L762.2 1001.5 L763.1 1003.9 L764.1 1006.2 L765.0 1008.5 L766.0 1010.8 L766.9 1013.2 L767.8 1015.5 L768.7 1017.8 L769.7 1020.2 L770.6 1022.5 L771.5 1024.8 L772.4 1027.2 L773.3 1029.5 L774.2 1031.8 L775.1 1034.2 L775.9 1036.5 L776.8 1038.9" fill="none" stroke="#000" stroke-width="7" stroke-linecap="butt" stroke-linejoin="round"/>
<path d="M1046.2 100.4 L1048.6 101.0 L1051.1 101.7 L1053.5 102.4 L1055.9 103.1 L1058.3 103.9 L1060.7 104.7 L1063.1 105.5 L1065.4 106.3 L1067.8 107.2 L1070.1 108.1 L1072.5 109.0 L1074.8 110.0 L1077.1 111.0 L1079.4 112.0 L1081.7 113.0 L1084.0 114.1 L1086.3 115.2 L1088.5 116.3 L1090.8 117.4 L1093.0 118.6 L1095.2 119.8 L1097.4 121.0 L1099.6 122.3 L1101.8 123.5 L1103.9 124.8 L1106.1 126.1 L1108.2 127.4 L1110.3 128.8 L1112.4 130.2 L1114.5 131.6 L1116.6 133.0 L1118.6 134.5 L1120.7 135.9 L1122.7 137.4 L1124.7 138.9 L1126.7 140.5 L1128.7 142.0 L1130.6 143.6 L1132.6 145.2 L1134.5 146.8 L1136.4 148.5 L1138.3 150.1 L1140.2 151.8 L1142.0 153.5 L1143.9 155.2 L1145.7 156.9 L1147.5 158.7 L1149.3 160.5 L1151.1 162.2 L1152.8 164.0 L1154.5 165.9 L1156.2 167.7 L1157.9 169.6 L1159.6 171.4 L1161.2 173.3 L1162.9 175.2 L1164.5 177.1 L1166.1 179.1 L1167.6 181.0 L1169.2 183.0 L1170.7 185.0 L1172.2 187.0 L1173.7 189.0 L1175.2 191.0 L1176.6 193.0 L1178.0 195.1 L1179.4 197.2 L1180.8 199.2 L1182.1 201.3 L1183.5 203.4 L1184.8 205.6 L1186.1 207.7 L1187.4 209.8 L1188.6 212.0 L1189.8 214.1 L1191.1 216.3 L1192.3 218.5 L1193.5 220.7 L1194.6 222.9 L1195.8 225.1 L1196.9 227.3 L1198.0 229.6 L1199.1 231.8 L1200.2 234.1 L1201.3 236.3 L1202.3 238.6 L1203.4 240.9 L1204.4 243.2 L1205.4 245.5 L1206.4 247.8 L1207.4 250.1 L1208.4 252.4 L1209.3 254.7 L1210.3 257.1 L1211.2 259.4 L1212.1 261.7 L1213.0 264.1 L1213.9 266.5 L1214.8 268.8 L1215.7 271.2 L1216.6 273.6 L1217.4 275.9 L1218.3 278.3 L1219.1 280.7 L1220.0 283.1 L1220.8 285.5 L1221.6 287.9 L1222.4 290.3 L1223.2 292.7 L1224.0 295.1 L1224.8 297.5 L1225.5 299.9 L1226.3 302.3 L1227.1 304.8 L1227.8 307.2 L1228.6 309.6 L1229.3 312.0 L1230.1 314.4 L1230.8 316.9 L1231.5 319.3 L1232.3 321.7 L1233.0 324.1 L1233.7 326.6 L1234.4 329.0 L1235.1 331.4 L1235.9 333.8 L1236.6 336.2 L1237.3 338.7 L1238.0 341.1 L1238.7 343.5 L1239.4 345.9 L1240.1 348.3 L1240.8 350.7 L1241.5 353.2 L1242.2 355.6 L1242.9 358.0 L1243.6 360.4 L1244.3 362.8 L1245.0 365.2 L1245.7 367.6 L1246.4 370.0 L1247.1 372.4 L1247.8 374.8 L1248.5 377.2 L1249.2 379.6 L1249.9 382.0 L1250.6 384.4 L1251.4 386.8 L1252.1 389.2 L1252.8 391.6 L1253.5 393.9 L1254.2 396.3 L1254.9 398.7 L1255.6 401.1 L1256.3 403.5 L1257.1 405.9 L1257.8 408.3 L1258.5 410.7 L1259.2 413.0 L1260.0 415.4 L1260.7 417.8 L1261.4 420.2 L1262.2 422.6 L1262.9 425.0 L1263.7 427.3 L1264.4 429.7 L1265.2 432.1 L1265.9 434.5 L1266.7 436.8 L1267.5 439.2 L1268.3 441.6 L1269.0 444.0 L1269.8 446.4 L1270.6 448.7 L1271.4 451.1 L1272.2 453.5 L1273.0 455.9 L1273.8 458.2 L1274.6 460.6 L1275.4 463.0 L1276.2 465.3 L1277.1 467.7 L1277.9 470.1 L1278.7 472.5 L1279.5 474.8 L1280.4 477.2 L1281.2 479.6 L1282.1 481.9 L1282.9 484.3 L1283.8 486.7 L1284.6 489.0 L1285.5 491.4 L1286.4 493.8 L1287.2 496.1 L1288.1 498.5 L1289.0 500.9 L1289.8 503.2 L1290.7 505.6 L1291.6 508.0 L1292.5 510.3 L1293.3 512.7 L1294.2 515.1 L1295.1 517.4 L1296.0 519.8 L1296.9 522.1 L1297.8 524.5 L1298.7 526.8 L1299.6 529.2 L1300.5 531.6 L1301.4 533.9 L1302.3 536.3 L1303.2 538.6 L1304.1 541.0 L1305.0 543.3 L1305.9 545.7 L1306.8 548.0 L1307.7 550.4 L1308.6 552.7 L1309.5 555.1 L1310.4 557.4 L1311.3 559.8 L1312.2 562.1 L1313.1 564.4 L1314.0 566.8 L1314.9 569.1 L1315.8 571.5 L1316.6 573.8 L1317.5 576.2 L1318.4 578.5 L1319.3 580.8 L1320.2 583.2 L1321.1 585.5 L1322.0 587.9 L1322.9 590.2 L1323.8 592.5 L1324.6 594.9 L1325.5 597.2 L1326.4 599.6 L1327.3 601.9 L1328.1 604.3 L1329.0 606.6 L1329.9 609.0 L1330.7 611.3 L1331.6 613.7 L1332.4 616.0 L1333.3 618.4 L1334.1 620.7 L1334.9 623.1 L1335.8 625.4 L1336.6 627.8 L1337.4 630.2 L1338.2 632.5 L1339.1 634.9 L1339.9 637.3 L1340.7 639.7 L1341.5 642.0 L1342.2 644.4 L1343.0 646.8 L1343.8 649.2 L1344.6 651.6 L1345.3 654.0 L1346.1 656.4 L1346.8 658.8 L1347.6 661.2 L1348.3 663.6 L1349.0 666.0 L1349.8 668.4 L1350.5 670.8 L1351.2 673.2 L1351.9 675.7 L1352.6 678.1 L1353.3 680.5 L1353.9 683.0 L1354.6 685.4 L1355.3 687.8 L1356.0 690.3 L1356.7 692.7 L1357.4 695.1 L1358.1 697.6 L1358.8 700.0 L1359.5 702.4 L1360.2 704.8 L1360.9 707.2 L1361.6 709.7 L1362.4 712.1 L1363.1 714.5 L1363.9 716.9 L1364.7 719.2 L1365.5 721.6 L1366.3 724.0 L1367.1 726.4 L1368.0 728.7 L1368.9 731.1 L1369.8 733.4 L1370.7 735.7 L1371.7 738.0 L1372.6 740.3 L1373.6 742.6 L1374.7 744.9 L1375.7 747.1 L1376.8 749.3 L1378.0 751.6 L1379.1 753.8 L1380.3 755.9 L1381.6 758.1 L1382.9 760.2 L1384.2 762.3 L1385.6 764.4 L1387.0 766.4 L1388.5 768.4 L1390.0 770.4 L1391.5 772.4 L1393.1 774.4 L1394.6 776.4 L1396.2 778.3 L1397.7 780.3 L1399.2 782.3 L1400.7 784.4 L1402.1 786.4 L1403.6 788.4 L1405.0 790.5 L1406.4 792.5 L1407.8 794.6 L1409.1 796.7 L1410.5 798.8 L1411.8 800.9 L1413.1 803.0 L1414.4 805.2 L1415.7 807.3 L1417.0 809.5 L1418.2 811.6 L1419.4 813.8 L1420.7 816.0 L1421.9 818.2 L1423.1 820.4 L1424.2 822.6 L1425.4 824.8 L1426.6 827.0 L1427.7 829.2 L1428.8 831.4 L1429.9 833.7 L1431.0 835.9 L1432.1 838.2 L1433.2 840.4 L1434.3 842.7 L1435.4 845.0 L1436.4 847.2 L1437.5 849.5 L1438.5 851.8 L1439.6 854.1 L1440.6 856.4 L1441.6 858.7 L1442.6 861.0 L1443.6 863.3 L1444.6 865.6 L1445.6 867.9 L1446.6 870.2 L1447.6 872.5 L1448.6 874.8 L1449.6 877.2 L1450.6 879.5 L1451.6 881.8 L1452.5 884.1 L1453.5 886.5 L1454.5 888.8 L1455.4 891.1 L1456.4 893.4 L1457.4 895.7 L1458.4 898.1 L1459.3 900.4 L1460.3 902.7 L1461.3 905.0 L1462.2 907.3 L1463.2 909.7 L1464.2 912.0 L1465.2 914.3 L1466.2 916.6 L1467.1 918.9 L1468.1 921.2 L1469.1 923.5 L1470.1 925.8 L1471.1 928.1 L1472.1 930.4 L1473.1 932.7 L1474.1 935.0 L1475.1 937.3 L1476.1 939.6 L1477.0 941.9 L1478.0 944.2 L1479.0 946.5 L1480.0 948.8 L1481.0 951.1 L1482.0 953.4 L1483.0 955.7 L1484.0 958.0 L1485.0 960.3 L1486.0 962.6 L1487.0 964.9 L1488.0 967.2 L1489.0 969.5 L1490.0 971.8 L1491.0 974.1 L1492.0 976.5 L1493.0 978.8 L1494.0 981.1 L1494.9 983.4 L1495.9 985.7 L1496.9 988.0 L1497.9 990.3 L1498.9 992.6 L1499.9 994.9 L1500.9 997.3 L1501.8 999.6 L1502.8 1001.9 L1503.8 1004.2 L1504.8 1006.6" fill="none" stroke="#000" stroke-width="7" stroke-linecap="butt" stroke-linejoin="round"/>
<path d="M1776.7 103.5 L1778.9 104.3 L1781.2 105.1 L1783.4 106.0 L1785.7 106.9 L1788.0 107.8 L1790.2 108.7 L1792.5 109.7 L1794.7 110.6 L1797.0 111.7 L1799.2 112.7 L1801.5 113.7 L1803.7 114.8 L1806.0 115.9 L1808.2 117.0 L1810.4 118.2 L1812.7 119.3 L1814.9 120.5 L1817.1 121.7 L1819.3 123.0 L1821.5 124.2 L1823.7 125.5 L1825.9 126.8 L1828.0 128.1 L1830.2 129.5 L1832.3 130.8 L1834.5 132.2 L1836.6 133.6 L1838.7 135.0 L1840.8 136.5 L1842.9 138.0 L1844.9 139.4 L1847.0 141.0 L1849.0 142.5 L1851.0 144.0 L1853.0 145.6 L1855.0 147.2 L1857.0 148.8 L1858.9 150.4 L1860.8 152.1 L1862.7 153.8 L1864.6 155.5 L1866.5 157.2 L1868.3 158.9 L1870.2 160.7 L1872.0 162.4 L1873.7 164.2 L1875.5 166.0 L1877.2 167.9 L1878.9 169.7 L1880.6 171.6 L1882.2 173.4 L1883.9 175.3 L1885.5 177.3 L1887.0 179.2 L1888.6 181.2 L1890.1 183.1 L1891.6 185.1 L1893.1 187.1 L1894.5 189.2 L1895.9 191.2 L1897.3 193.2 L1898.7 195.3 L1900.1 197.4 L1901.4 199.5 L1902.7 201.6 L1904.0 203.7 L1905.3 205.9 L1906.5 208.0 L1907.8 210.2 L1909.0 212.3 L1910.2 214.5 L1911.4 216.7 L1912.5 218.9 L1913.7 221.1 L1914.8 223.3 L1915.9 225.6 L1917.0 227.8 L1918.1 230.1 L1919.2 232.3 L1920.3 234.6 L1921.3 236.9 L1922.4 239.1 L1923.4 241.4 L1924.4 243.7 L1925.4 246.0 L1926.4 248.3 L1927.4 250.6 L1928.4 252.9 L1929.3 255.2 L1930.3 257.6 L1931.2 259.9 L1932.2 262.2 L1933.1 264.5 L1934.0 266.9 L1935.0 269.2 L1935.9 271.5 L1936.8 273.9 L1937.7 276.2 L1938.6 278.6 L1939.5 280.9 L1940.4 283.2 L1941.3 285.6 L1942.2 287.9 L1943.0 290.3 L1943.9 292.6 L1944.8 295.0 L1945.6 297.3 L1946.5 299.7 L1947.3 302.1 L1948.2 304.4 L1949.0 306.8 L1949.8 309.1 L1950.7 311.5 L1951.5 313.9 L1952.3 316.2 L1953.1 318.6 L1953.9 321.0 L1954.7 323.3 L1955.5 325.7 L1956.3 328.1 L1957.1 330.5 L1957.9 332.9 L1958.7 335.2 L1959.5 337.6 L1960.2 340.0 L1961.0 342.4 L1961.8 344.8 L1962.5 347.2 L1963.3 349.5 L1964.1 351.9 L1964.8 354.3 L1965.5 356.7 L1966.3 359.1 L1967.0 361.5 L1967.8 363.9 L1968.5 366.3 L1969.2 368.7 L1969.9 371.1 L1970.7 373.5 L1971.4 375.9 L1972.1 378.3 L1972.8 380.7 L1973.5 383.1 L1974.2 385.5 L1974.9 387.9 L1975.6 390.3 L1976.3 392.7 L1977.0 395.1 L1977.7 397.6 L1978.4 400.0 L1979.0 402.4 L1979.7 404.8 L1980.4 407.2 L1981.1 409.6 L1981.7 412.0 L1982.4 414.5 L1983.1 416.9 L1983.7 419.3 L1984.4 421.7 L1985.1 424.1 L1985.7 426.5 L1986.4 429.0 L1987.0 431.4 L1987.7 433.8 L1988.3 436.2 L1989.0 438.7 L1989.6 441.1 L1990.2 443.5 L1990.9 445.9 L1991.5 448.4 L1992.2 450.8 L1992.8 453.2 L1993.4 455.6 L1994.1 458.1 L1994.7 460.5 L1995.3 462.9 L1996.0 465.3 L1996.6 467.8 L1997.2 470.2 L1997.8 472.6 L1998.4 475.1 L1999.1 477.5 L1999.7 479.9 L2000.3 482.4 L2000.9 484.8 L2001.5 487.2 L2002.2 489.6 L2002.8 492.1 L2003.4 494.5 L2004.0 496.9 L2004.6 499.4 L2005.2 501.8 L2005.9 504.2 L2006.5 506.7 L2007.1 509.1 L2007.7 511.5 L2008.3 514.0 L2008.9 516.4 L2009.5 518.8 L2010.1 521.3 L2010.8 523.7 L2011.4 526.1 L2012.0 528.6 L2012.6 531.0 L2013.2 533.4 L2013.8 535.8 L2014.4 538.3 L2015.0 540.7 L2015.6 543.1 L2016.3 545.6 L2016.9 548.0 L2017.5 550.4 L2018.1 552.9 L2018.7 555.3 L2019.3 557.7 L2020.0 560.1 L2020.6 562.6 L2021.2 565.0 L2021.8 567.4 L2022.4 569.9 L2023.1 572.3 L2023.7 574.7 L2024.3 577.1 L2024.9 579.6 L2025.5 582.0 L2026.2 584.4 L2026.8 586.8 L2027.4 589.3 L2028.1 591.7 L2028.7 594.1 L2029.3 596.5 L2030.0 599.0 L2030.6 601.4 L2031.2 603.8 L2031.9 606.2 L2032.5 608.6 L2033.2 611.1 L2033.8 613.5 L2034.4 615.9 L2035.1 618.3 L2035.7 620.7 L2036.4 623.2 L2037.0 625.6 L2037.7 628.0 L2038.4 630.4 L2039.0 632.8 L2039.7 635.2 L2040.3 637.7 L2041.0 640.1 L2041.7 642.5 L2042.4 644.9 L2043.0 647.3 L2043.7 649.7 L2044.4 652.1 L2045.1 654.6 L2045.7 657.0 L2046.4 659.4 L2047.1 661.8 L2047.8 664.2 L2048.5 666.6 L2049.2 669.0 L2049.9 671.4 L2050.6 673.8 L2051.3 676.2 L2052.0 678.6 L2052.7 681.0 L2053.5 683.4 L2054.2 685.8 L2054.9 688.2 L2055.6 690.6 L2056.4 693.0 L2057.1 695.4 L2057.8 697.8 L2058.6 700.2 L2059.3 702.6 L2060.0 705.0 L2060.8 707.4 L2061.5 709.8 L2062.3 712.2 L2063.1 714.6 L2063.8 717.0 L2064.6 719.4 L2065.4 721.8 L2066.1 724.2 L2066.9 726.6 L2067.7 728.9 L2068.5 731.3 L2069.3 733.7 L2070.2 736.1 L2071.0 738.5 L2071.9 740.8 L2072.8 743.2 L2073.7 745.5 L2074.6 747.9 L2075.6 750.2 L2076.6 752.5 L2077.7 754.8 L2078.8 757.1 L2079.9 759.4 L2081.1 761.6 L2082.4 763.8 L2083.7 765.8 L2085.2 767.8 L2086.7 769.5 L2088.4 771.2 L2090.2 772.6 L2092.2 773.8 L2094.3 774.8 L2096.6 775.6 L2099.0 776.2 L2101.5 776.6 L2104.1 776.9 L2106.7 777.2 L2109.3 777.5 L2111.9 777.9 L2114.5 778.4 L2117.0 779.1 L2119.3 779.9 L2121.6 781.0 L2123.7 782.2 L2125.8 783.6 L2127.7 785.2 L2129.5 786.8 L2131.2 788.6 L2132.9 790.5 L2134.4 792.4 L2135.8 794.4 L2137.1 796.5 L2138.3 798.6 L2139.5 800.8 L2140.6 803.1 L2141.7 805.3 L2142.7 807.7 L2143.6 810.0 L2144.5 812.4 L2145.4 814.7 L2146.3 817.1 L2147.2 819.5 L2148.1 821.9 L2148.9 824.3 L2149.8 826.7 L2150.7 829.0 L2151.6 831.4 L2152.6 833.7 L2153.5 836.0 L2154.4 838.4 L2155.4 840.7 L2156.3 843.0 L2157.3 845.3 L2158.2 847.6 L2159.2 849.9 L2160.2 852.2 L2161.1 854.5 L2162.1 856.8 L2163.0 859.1 L2164.0 861.4 L2164.9 863.7 L2165.9 866.0 L2166.8 868.3 L2167.8 870.7 L2168.7 873.0 L2169.6 875.3 L2170.6 877.6 L2171.5 880.0 L2172.5 882.3 L2173.4 884.6 L2174.3 886.9 L2175.3 889.3 L2176.2 891.6 L2177.1 893.9 L2178.0 896.3 L2179.0 898.6 L2179.9 900.9 L2180.8 903.3 L2181.8 905.6 L2182.7 907.9 L2183.6 910.3 L2184.6 912.6 L2185.5 914.9 L2186.4 917.3 L2187.4 919.6 L2188.3 921.9 L2189.2 924.2 L2190.2 926.6 L2191.1 928.9 L2192.0 931.2 L2193.0 933.6 L2193.9 935.9 L2194.8 938.2 L2195.8 940.5 L2196.7 942.9 L2197.7 945.2 L2198.6 947.5 L2199.5 949.8 L2200.5 952.1 L2201.4 954.5 L2202.4 956.8 L2203.3 959.1 L2204.2 961.4 L2205.2 963.8 L2206.1 966.1 L2207.1 968.4 L2208.0 970.7 L2208.9 973.0 L2209.9 975.4 L2210.8 977.7 L2211.8 980.0 L2212.7 982.3 L2213.6 984.7 L2214.6 987.0 L2215.5 989.3 L2216.5 991.6 L2217.4 993.9 L2218.3 996.3 L2219.3 998.6 L2220.2 1000.9 L2221.1 1003.2 L2222.1 1005.6 L2223.0 1007.9 L2224.0 1010.2 L2224.9 1012.5 L2225.8 1014.9 L2226.8 1017.2 L2227.7 1019.5 L2228.6 1021.9 L2229.6 1024.2 L2230.5 1026.5 L2231.4 1028.9 L2232.4 1031.2 L2233.3 1033.5" fill="none" stroke="#000" stroke-width="7" stroke-linecap="butt" stroke-linejoin="round"/>
</svg></body></html>
